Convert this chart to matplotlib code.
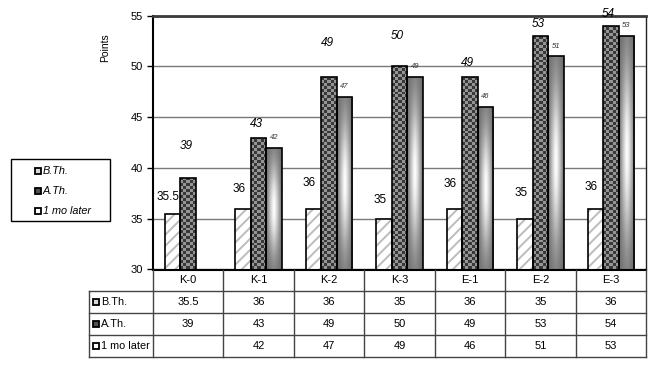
import numpy as np
import matplotlib.pyplot as plt
from matplotlib.colors import ListedColormap
from matplotlib.patches import Rectangle

categories = ["K-0", "K-1", "K-2", "K-3", "E-1", "E-2", "E-3"]
before = [35.5, 36, 36, 35, 36, 35, 36]
after = [39, 43, 49, 50, 49, 53, 54]
later = [None, 42, 47, 49, 46, 51, 53]
series_names = ["B.Th.", "A.Th.", "1 mo later"]

# labels were dragged by hand in the original, offsets in points-units above bar top
before_dy = [1.6, 1.9, 2.5, 1.8, 2.4, 2.5, 2.1]
after_dy = [3.2, 1.3, 3.3, 3.0, 1.3, 1.2, 1.2]

plt.rcParams["font.family"] = ["Liberation Sans Narrow", "Liberation Sans", "DejaVu Sans"]
plt.rcParams["hatch.linewidth"] = 1.4

W, H = 656, 369
fig = plt.figure(figsize=(W / 100, H / 100), dpi=100)


def fx(px):
    return px / W


def fy(py):
    return 1 - py / H


left, right, top, bottom = 153, 646, 15.7, 269.5
ax = fig.add_axes([fx(left), fy(bottom), fx(right - left), (bottom - top) / H])

YMIN, YMAX = 30, 55
w = 0.22
x = np.arange(len(categories))

# B.Th. : light diagonal hatch
ax.bar(x - w, before, w, color="white", edgecolor="#bcbcbc", hatch="///", linewidth=0, zorder=2)
ax.bar(x - w, before, w, fill=False, edgecolor="black", linewidth=1.2, zorder=3)

# A.Th. : checkerboard
checker = ListedColormap(["#383838", "#959595"])
cell_h = 0.29
for xi, v in zip(x, after):
    bar = ax.bar(xi, v, w, fill=False, edgecolor="black", linewidth=1.2, zorder=3)[0]
    ny = int(np.ceil((v - YMIN) / cell_h))
    ii, jj = np.indices((ny, 5))
    img = ax.imshow((ii + jj) % 2, cmap=checker, origin="lower", interpolation="nearest",
                    aspect="auto", extent=[xi - w / 2, xi + w / 2, YMIN, YMIN + ny * cell_h],
                    zorder=2)
    img.set_clip_path(bar)

# 1 mo later : cylinder-like gradient
u = np.linspace(0, 1, 40)
vv = np.linspace(0, 1, 200)
U, V = np.meshgrid(u, vv)
grad = 0.42 + 0.58 * (1 - np.abs(2 * U - 1) ** 1.3) * np.exp(-((V - 0.5) / 0.38) ** 2)
for xi, v in zip(x, later):
    if v is None:
        continue
    bar = ax.bar(xi + w, v, w, fill=False, edgecolor="black", linewidth=1.2, zorder=3)[0]
    img = ax.imshow(grad, cmap="gray", vmin=0, vmax=1, origin="lower", aspect="auto",
                    extent=[xi + w / 2, xi + 1.5 * w, YMIN, v], zorder=2)
    img.set_clip_path(bar)

# data labels
for i in range(len(categories)):
    ax.text(x[i] - w - 0.06, before[i] + before_dy[i], f"{before[i]:g}",
            ha="center", va="center", fontsize=8.5, zorder=4)
    ax.text(x[i] - 0.03, after[i] + after_dy[i], f"{after[i]:g}",
            ha="center", va="center", fontsize=8.5, style="italic", zorder=4)
    if later[i] is not None:
        ax.text(x[i] + w, later[i] + 1.0, f"{later[i]:g}",
                ha="center", va="center", fontsize=5.5, style="italic", color="#333333", zorder=4)

ax.set_xlim(-0.5, len(categories) - 0.5)
ax.set_ylim(YMIN, YMAX)
ax.set_yticks(range(30, 56, 5))
ax.set_xticks([])
ax.tick_params(axis="y", labelsize=8, length=4, width=1, pad=3)
ax.yaxis.grid(True, color="#7a7a7a", linewidth=1)
ax.set_axisbelow(True)
ax.set_ylabel("Points", fontsize=7.5)
ax.yaxis.set_label_coords(-0.087, 0.876)
for s in ["left", "bottom"]:
    ax.spines[s].set_linewidth(1.5)
    ax.spines[s].set_color("black")
ax.spines["top"].set_linewidth(2)
ax.spines["top"].set_color("#3a3a3a")
ax.spines["right"].set_linewidth(1)
ax.spines["right"].set_color("#222222")

# data table below the plot
tleft, tbot = 89, 357
lab_w = (left - tleft) / (right - left) * len(categories)
tax = fig.add_axes([fx(tleft), fy(tbot), fx(right - tleft), (tbot - bottom) / H])
tax.set_xlim(-0.5 - lab_w, len(categories) - 0.5)
tax.set_ylim(4, 0)
tax.axis("off")
lc = "#444444"
for r in range(1, 5):
    tax.plot([-0.5 - lab_w, len(categories) - 0.5], [r, r], color=lc, lw=1, clip_on=False)
tax.plot([-0.5 - lab_w, -0.5 - lab_w], [1, 4], color=lc, lw=1, clip_on=False)
for c in range(len(categories) + 1):
    tax.plot([c - 0.5, c - 0.5], [0, 4], color=lc, lw=1, clip_on=False)

rows = [before, after, later]
key_faces = ["#d8d8d8", "#505050", "white"]
for i, cat in enumerate(categories):
    tax.text(i, 0.5, cat, ha="center", va="center", fontsize=8)
    for r, vals in enumerate(rows):
        if vals[i] is not None:
            tax.text(i, r + 1.5, f"{vals[i]:g}", ha="center", va="center", fontsize=8)
for r, name in enumerate(series_names):
    tax.plot(-0.5 - lab_w + 0.1, r + 1.5, marker="s", ms=5, mfc=key_faces[r], mec="black",
             mew=1.3, clip_on=False)
    tax.text(-0.5 - lab_w + 0.17, r + 1.5, name, ha="left", va="center", fontsize=7.8)

# legend box at the left
lax = fig.add_axes([fx(11), fy(221), fx(99), 62 / H])
lax.set_xlim(0, 99)
lax.set_ylim(62, 0)
lax.axis("off")
lax.add_patch(Rectangle((0, 0), 99, 62, fill=False, edgecolor="black", lw=1, clip_on=False))
for r, name in enumerate(series_names):
    yy = 11.5 + r * 20.3
    lax.plot(27, yy, marker="s", ms=5, mfc=key_faces[r], mec="black", mew=1.3)
    lax.text(32, yy, name, ha="left", va="center", fontsize=7.8, style="italic")

fig.savefig("out.png", dpi=100)
